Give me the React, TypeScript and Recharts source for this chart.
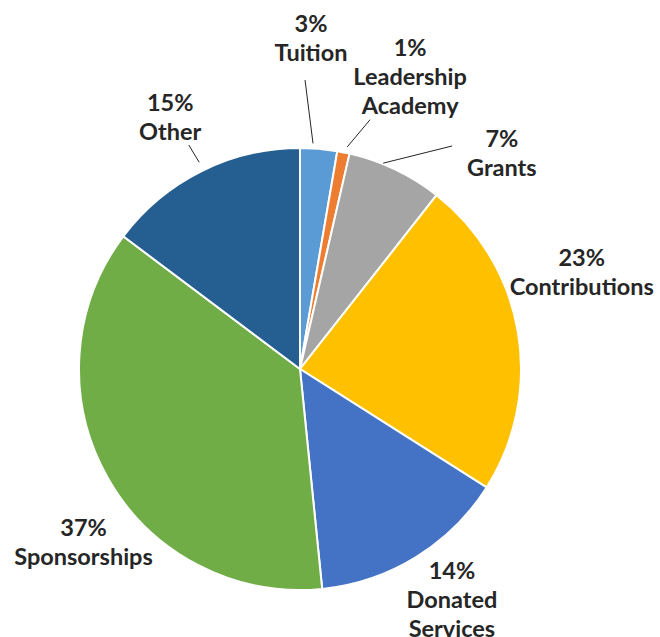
import React from "react";
import { PieChart, Pie, Cell } from "recharts";

// Revenue mix — slices go clockwise from 12 o'clock (shares, labels rounded).
const NAMES = ["Tuition", "Leadership Academy", "Grants", "Contributions", "Donated Services", "Sponsorships", "Other"];
const VALUES = [2.7, 0.9, 7.0, 23.4, 14.4, 36.85, 14.75];
const LABEL_LINES = [["Tuition"], ["Leadership", "Academy"], ["Grants"], ["Contributions"], ["Donated", "Services"], ["Sponsorships"], ["Other"]];
const COLORS = ["#5B9BD5", "#ED7D31", "#A5A5A5", "#FFC000", "#4472C4", "#70AD47", "#255E91"];

const DATA = NAMES.map((name, i) => ({ name, value: VALUES[i] }));

// label placement: radius + angle (deg clockwise from top) of the text block centre,
// plus optional leader line [r1, a1, r2, a2]
const LAYOUT: { r: number; a: number; line?: number[] }[] = [
  { r: 332, a: 1.9, line: [226, 3.3, 289, 1] },
  { r: 313, a: 20.6, line: [227, 12, 259, 15.7] },
  { r: 296, a: 43, line: [222, 22, 270, 34.3] },
  { r: 298, a: 71 },
  { r: 276, a: 146.6 },
  { r: 277, a: 231.4 },
  { r: 284, a: 332.8, line: [230, 334, 250, 333.6] },
];

const FONT = 23.5;
const LINE_H = 29;

function polar(cx: number, cy: number, r: number, a: number) {
  const rad = (a * Math.PI) / 180;
  return [cx + r * Math.sin(rad), cy - r * Math.cos(rad)];
}

function renderLabel(props: any) {
  const { cx, cy, index } = props;
  const lay = LAYOUT[index];
  const lines = [`${Math.round(VALUES[index])}%`, ...LABEL_LINES[index]];
  const [x, y] = polar(cx, cy, lay.r, lay.a);
  const top = y - ((lines.length - 1) * LINE_H) / 2;
  let leader = null;
  if (lay.line) {
    const [x1, y1] = polar(cx, cy, lay.line[0], lay.line[1]);
    const [x2, y2] = polar(cx, cy, lay.line[2], lay.line[3]);
    leader = <line x1={x1} y1={y1} x2={x2} y2={y2} stroke="#262626" strokeWidth={1} />;
  }
  return (
    <g key={`lbl-${index}`}>
      {leader}
      <text
        x={x}
        y={top}
        textAnchor="middle"
        dominantBaseline="central"
        fill="#262626"
        fontFamily="Lato, sans-serif"
        fontWeight="bold"
        fontSize={FONT}
      >
        {lines.map((t, i) => (
          <tspan key={i} x={x} y={top + i * LINE_H}>
            {t}
          </tspan>
        ))}
      </text>
    </g>
  );
}

export default function App() {
  return (
    <div style={{ position: "absolute", left: 0, top: 0, background: "#fff" }}>
      <PieChart width={660} height={637} margin={{ top: 0, right: 0, bottom: 0, left: 0 }}>
        <Pie
          data={DATA}
          dataKey="value"
          nameKey="name"
          cx={300}
          cy={369}
          outerRadius={221}
          startAngle={90}
          endAngle={-270}
          stroke="#fff"
          strokeWidth={2}
          label={renderLabel}
          labelLine={false}
          isAnimationActive={false}
        >
          {DATA.map((d, i) => (
            <Cell key={d.name} fill={COLORS[i]} />
          ))}
        </Pie>
      </PieChart>
    </div>
  );
}
